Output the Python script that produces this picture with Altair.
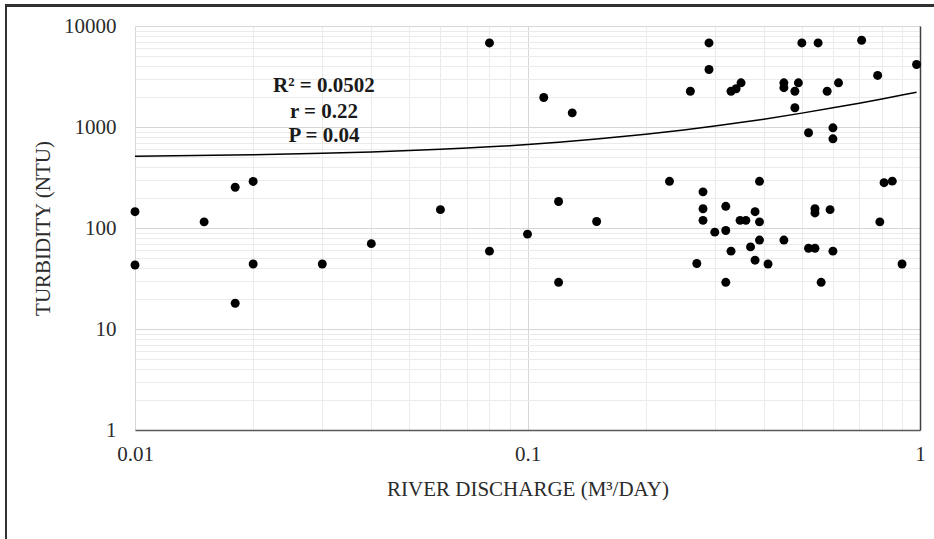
import altair as alt
import pandas as pd

# ---- data ----
discharge = [0.01, 0.01, 0.015, 0.018, 0.018, 0.02, 0.02, 0.03, 0.04, 0.06,
             0.08, 0.08, 0.10, 0.11, 0.12, 0.12, 0.13, 0.15, 0.23, 0.26,
             0.27, 0.28, 0.28, 0.28, 0.29, 0.29, 0.30, 0.32, 0.32, 0.32,
             0.33, 0.33, 0.34, 0.35, 0.348, 0.36, 0.37, 0.38, 0.38, 0.39,
             0.39, 0.39, 0.41, 0.45, 0.45, 0.45, 0.48, 0.49, 0.48, 0.50,
             0.52, 0.52, 0.54, 0.54, 0.54, 0.55, 0.56, 0.58, 0.59, 0.60,
             0.60, 0.60, 0.62, 0.71, 0.78, 0.79, 0.81, 0.85, 0.90, 0.98]
turbidity = [145, 43, 115, 253, 18, 289, 44, 44, 70, 152,
             6800, 59, 87, 1960, 183, 29, 1380, 116, 290, 2260,
             44.5, 228, 155, 119, 6800, 3710, 91, 164, 94.5, 29,
             59, 2260, 2390, 2740, 119, 119, 65, 145, 48, 290,
             115, 76, 44, 76, 2740, 2450, 2260, 2740, 1550, 6800,
             877, 63, 63, 155, 141, 6800, 29, 2260, 152, 982,
             764, 59, 2740, 7230, 3240, 115, 281, 291, 44, 4160]

# trendline
trend_x = [0.01, 0.02, 0.03, 0.04, 0.05, 0.06, 0.07, 0.08, 0.09, 0.1, 0.12, 0.15,
           0.2, 0.25, 0.3, 0.4, 0.5, 0.6, 0.7, 0.8, 0.9, 0.98]
trend_y = [514, 531, 549, 566, 584, 601, 619, 636, 654, 672, 706, 760,
           848, 935, 1022, 1196, 1372, 1548, 1722, 1898, 2072, 2212]

# annotation
note_text = ["R\u00b2 = 0.0502", "r = 0.22", "P = 0.04"]
note_x = [0.0303, 0.0303, 0.0303]
note_y = [2535, 1392, 811]

# axis tick values (log axes with minor gridlines)
x_ticks = [0.01, 0.02, 0.03, 0.04, 0.05, 0.06, 0.07, 0.08, 0.09,
           0.1, 0.2, 0.3, 0.4, 0.5, 0.6, 0.7, 0.8, 0.9, 1]
y_ticks = [m * d for d in [1, 10, 100, 1000] for m in range(1, 10)] + [10000]

FONT = "Liberation Serif"
MAJOR = "abs(log(datum.value)/LN10 - round(log(datum.value)/LN10)) < 0.001"
grid_color = {"condition": {"test": MAJOR, "value": "#d6d6d6"}, "value": "#ebebeb"}
label_expr = MAJOR + " ? datum.label : ''"

pts = pd.DataFrame({"x": discharge, "y": turbidity})
trend = pd.DataFrame({"x": trend_x, "y": trend_y})
notes = pd.DataFrame({"x": note_x, "y": note_y, "t": note_text})

xscale = alt.Scale(type="log", domain=[0.01, 1], nice=False)
yscale = alt.Scale(type="log", domain=[1, 10000], nice=False)

points = alt.Chart(pts).mark_circle(size=80, color="black", opacity=1).encode(
    x=alt.X("x:Q", scale=xscale,
            axis=alt.Axis(values=x_ticks, format="~g", labelExpr=label_expr,
                          labelOverlap=False, labelFlush=False, ticks=False, grid=True,
                          gridColor=grid_color, domainColor="#595959",
                          domainWidth=1.5, labelPadding=13,
                          title="RIVER DISCHARGE (M\u00b3/DAY)", titlePadding=14)),
    y=alt.Y("y:Q", scale=yscale,
            axis=alt.Axis(values=y_ticks, format="~g", labelExpr=label_expr,
                          labelOverlap=False, labelFlush=False, ticks=False, grid=True,
                          gridColor=grid_color, domain=False, labelPadding=19,
                          title="TURBIDITY (NTU)", titlePadding=10)),
)

line = alt.Chart(trend).mark_line(color="black", strokeWidth=1.5).encode(
    x=alt.X("x:Q", scale=xscale, axis=None),
    y=alt.Y("y:Q", scale=yscale,
            axis=alt.Axis(orient="right", labels=False, ticks=False, grid=False,
                          domainColor="#404040", domainWidth=1.5, title=None)),
)

text = alt.Chart(notes).mark_text(font=FONT, fontSize=21, fontWeight="bold",
                                  color="#1a1a1a", baseline="middle",
                                  align="center").encode(
    x=alt.X("x:Q", scale=xscale, axis=None),
    y=alt.Y("y:Q", scale=yscale, axis=None),
    text="t:N",
)

frame_left = alt.Chart(pts).mark_rule(color="#333333", strokeWidth=1.5, clip=False).encode(
    x=alt.value(-129), y=alt.value(-21), y2=alt.value(520))
frame_top = alt.Chart(pts).mark_rule(color="#333333", strokeWidth=1.5, clip=False).encode(
    x=alt.value(-130), x2=alt.value(805), y=alt.value(-20.5))

chart = alt.layer(points, line, text, frame_left, frame_top).resolve_axis(
    x="independent", y="independent"
).properties(
    width=785, height=404,
    autosize=alt.AutoSizeParams(type="none"),
    padding={"left": 135, "top": 26, "right": 14, "bottom": 109},
    background="white",
).configure_view(stroke=None).configure_axis(
    labelFont=FONT, titleFont=FONT, labelFontSize=21, titleFontSize=21,
    labelColor="#2b2b2b", titleColor="#2b2b2b", titleFontWeight="normal",
)

chart.save("out.html", embed_options={"renderer": "svg", "actions": False})
